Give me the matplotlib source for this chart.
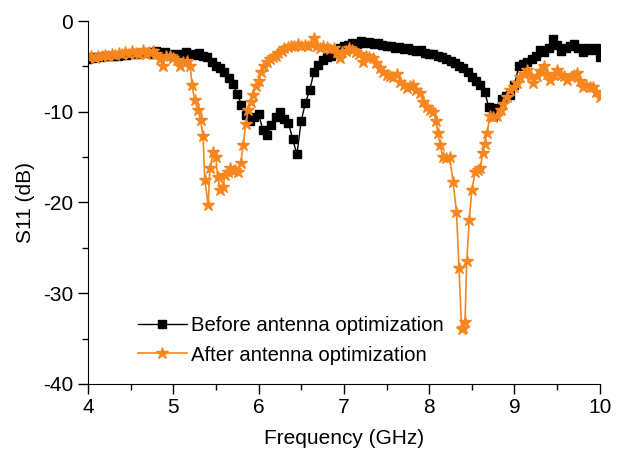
import numpy as np
import matplotlib
matplotlib.use("Agg")
import matplotlib.pyplot as plt
from matplotlib.ticker import MultipleLocator

plt.rcParams['font.family'] = ['Liberation Sans', 'DejaVu Sans']
plt.rcParams['axes.unicode_minus'] = False

# Before optimization: sweep 4-10 GHz, 0.05 GHz step
freq_before = 4 + 0.05 * np.arange(121)
s11_before = [
    -4.2, -4.1, -4.0, -4.0, -3.9, -3.9, -3.8, -3.8, -3.7, -3.7,
    -3.6, -3.5, -3.6, -3.5, -3.4, -3.6, -3.3, -3.5, -3.4, -3.6,
    -3.7, -3.6, -3.7, -3.4, -3.6, -3.7, -3.5, -3.8, -4.0, -4.5,
    -4.9, -5.2, -5.6, -6.3, -6.9, -8.0, -9.2, -10.3, -11.0, -10.6,
    -10.2, -12.0, -12.6, -11.5, -10.6, -10.0, -10.8, -11.2, -13.0, -14.7,
    -11.0, -9.0, -7.6, -5.6, -4.8, -4.3, -4.0, -3.8, -3.3, -3.0,
    -2.8, -2.6, -2.4, -2.5, -2.2, -2.4, -2.3, -2.5, -2.4, -2.6,
    -2.7, -2.8, -3.0, -2.9, -3.1, -3.0, -3.2, -3.3, -3.2, -3.5,
    -3.6, -3.6, -3.9, -4.0, -4.2, -4.4, -4.6, -4.9, -5.2, -5.6,
    -6.2, -6.6, -7.1, -7.8, -9.5, -10.5, -9.6, -8.6, -8.3, -8.2,
    -7.0, -5.0, -4.7, -4.5, -4.2, -3.8, -3.2, -3.4, -3.0, -2.0,
    -2.6, -3.3, -3.0, -2.8, -2.5, -3.0, -3.4, -3.0, -3.2, -3.0,
    -4.0,
]

# After optimization
freq_after = [
    4.00, 4.04, 4.08, 4.12, 4.16, 4.20, 4.24, 4.28, 4.32, 4.36,
    4.40, 4.44, 4.48, 4.52, 4.56, 4.60, 4.64, 4.68, 4.72, 4.76,
    4.80, 4.84, 4.88, 4.92, 4.96, 5.00, 5.04, 5.08, 5.12, 5.16,
    5.20, 5.22, 5.25, 5.29, 5.32, 5.35, 5.37, 5.41, 5.43, 5.47,
    5.50, 5.52, 5.55, 5.58, 5.61, 5.64, 5.67, 5.70, 5.73, 5.76,
    5.79, 5.82, 5.85, 5.88, 5.91, 5.94, 5.97, 6.00, 6.03, 6.06,
    6.10, 6.14, 6.17, 6.20, 6.23, 6.27, 6.30, 6.34, 6.38, 6.42,
    6.46, 6.50, 6.54, 6.58, 6.62, 6.65, 6.68, 6.72, 6.76, 6.80,
    6.84, 6.88, 6.92, 6.95, 6.98, 7.02, 7.06, 7.10, 7.14, 7.18,
    7.22, 7.26, 7.30, 7.34, 7.38, 7.42, 7.46, 7.50, 7.54, 7.58,
    7.62, 7.66, 7.70, 7.74, 7.78, 7.81, 7.85, 7.89, 7.93, 7.97,
    8.01, 8.05, 8.08, 8.10, 8.13, 8.16, 8.20, 8.24, 8.28, 8.32,
    8.35, 8.38, 8.40, 8.42, 8.44, 8.47, 8.50, 8.54, 8.57, 8.60,
    8.63, 8.65, 8.68, 8.71, 8.75, 8.80, 8.84, 8.87, 8.91, 8.95,
    8.99, 9.03, 9.07, 9.11, 9.15, 9.19, 9.22, 9.26, 9.30, 9.34,
    9.38, 9.42, 9.46, 9.50, 9.54, 9.58, 9.62, 9.66, 9.70, 9.73,
    9.77, 9.80, 9.84, 9.88, 9.92, 9.96, 10.00,
]
s11_after = [
    -4.0, -3.9, -4.1, -3.8, -3.9, -3.7, -3.8, -3.6, -3.7, -3.5,
    -3.6, -3.4, -3.6, -3.3, -3.5, -3.6, -3.2, -3.6, -3.4, -3.3,
    -3.6, -4.2, -4.9, -3.8, -3.9, -4.1, -4.3, -4.9, -4.5, -4.4,
    -5.0, -7.0, -8.7, -9.8, -10.9, -12.7, -17.5, -20.3, -16.2, -14.4,
    -15.0, -17.2, -18.6, -18.3, -17.0, -16.6, -16.2, -16.5, -16.4, -16.6,
    -15.7, -13.7, -11.3, -9.8, -8.9, -8.1, -7.2, -6.6, -5.6, -5.0,
    -4.5, -4.2, -4.0, -3.8, -3.5, -3.3, -3.0, -2.9, -2.7, -2.8,
    -2.5, -2.7, -2.6, -2.8, -2.5, -1.9, -2.7, -3.0, -2.8, -2.9,
    -3.1, -3.0, -3.4, -4.1, -3.4, -3.3, -3.0, -3.2, -3.4, -3.6,
    -4.5, -3.9, -4.0, -4.1, -4.6, -5.2, -5.6, -5.9, -6.0, -6.2,
    -5.8, -6.7, -7.0, -7.4, -7.2, -7.0, -7.6, -7.9, -8.9, -9.5,
    -9.8, -10.0, -11.0, -12.3, -13.7, -15.0, -15.1, -15.0, -17.7, -21.0,
    -27.2, -34.0, -33.8, -33.2, -26.5, -21.9, -18.6, -16.6, -16.4, -16.2,
    -14.5, -13.5, -12.3, -10.5, -10.6, -10.5, -9.8, -9.1, -8.4, -7.6,
    -7.3, -6.8, -6.2, -5.8, -5.4, -6.0, -6.8, -6.0, -5.5, -5.0,
    -5.8, -6.5, -5.9, -5.4, -5.9, -6.1, -6.5, -6.2, -5.9, -5.7,
    -6.6, -7.3, -7.0, -7.3, -7.3, -7.8, -8.4,
]

fig = plt.figure(figsize=(6.19, 4.49), dpi=100)
ax = fig.add_axes([0.142, 0.145, 0.827, 0.808])

ax.plot(freq_before, s11_before, color='black', marker='s', markersize=6,
        linewidth=1, label='Before antenna optimization')
ax.plot(freq_after, s11_after, color='#F7861F', marker='*', markersize=9,
        linewidth=1.2, label='After antenna optimization')

ax.set_xlim(4, 10)
ax.set_ylim(-40, 0)
ax.xaxis.set_major_locator(MultipleLocator(1))
ax.xaxis.set_minor_locator(MultipleLocator(0.5))
ax.yaxis.set_major_locator(MultipleLocator(10))
ax.yaxis.set_minor_locator(MultipleLocator(5))
ax.tick_params(which='major', direction='out', length=7, width=1, labelsize=15)
ax.tick_params(which='minor', direction='out', length=4, width=1)
ax.spines['top'].set_visible(False)
ax.spines['right'].set_visible(False)

ax.set_xlabel('Frequency (GHz)', fontsize=15, labelpad=8)
ax.set_ylabel('S11 (dB)', fontsize=15, labelpad=6)

ax.legend(loc='lower left', bbox_to_anchor=(0.062, 0.003), frameon=False,
          fontsize=14.6, handlelength=2.4, handletextpad=0.2, labelspacing=0.5)

fig.savefig('out.png', dpi=100)
